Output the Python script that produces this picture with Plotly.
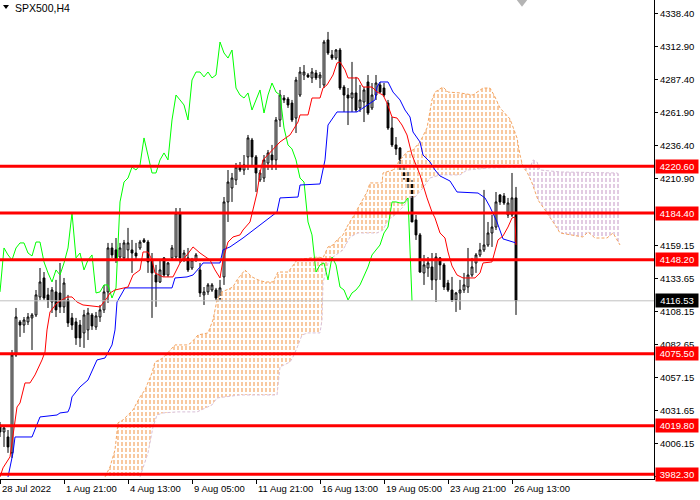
import plotly.graph_objects as go

# ---------------- data ----------------
tick_idx = [0, 16, 32, 48, 64, 80, 96, 112, 128]
tick_txt = ["28 Jul 2022", "1 Aug 21:00", "4 Aug 13:00", "9 Aug 05:00", "11 Aug 21:00",
            "16 Aug 13:00", "19 Aug 05:00", "23 Aug 21:00", "26 Aug 13:00"]

opens = [4020.5, 4015.1, 4011.2, 3998.9, 4074.6, 4100.2, 4097.8, 4100.2, 4103.3, 4105.6,
         4119.5, 4134.2, 4121.1, 4115.6, 4123.4, 4122.6, 4111.8, 4117.2, 4103.3, 4100.2,
         4097.8, 4091.7, 4094.0, 4105.6, 4096.3, 4104.0, 4109.5, 4123.4, 4157.4, 4155.9,
         4150.4, 4149.7, 4155.9, 4155.9, 4153.5, 4157.4, 4163.6, 4162.0, 4148.1, 4136.5,
         4131.1, 4149.7, 4136.5, 4149.7, 4150.4, 4184.5, 4148.1, 4149.7, 4141.9, 4148.1,
         4140.4, 4121.1, 4123.4, 4124.9, 4124.9, 4118.7, 4135.0, 4193.0, 4203.8, 4210.0,
         4220.0, 4217.7, 4227.8, 4240.9, 4227.8, 4210.0, 4211.5, 4223.1, 4229.3, 4225.5,
         4256.4, 4273.4, 4272.6, 4269.5, 4257.9, 4275.7, 4291.2, 4291.2, 4288.9, 4292.7,
         4288.9, 4283.5, 4318.3, 4306.7, 4304.3, 4310.5, 4281.9, 4275.7, 4273.4, 4277.3,
         4265.7, 4270.3, 4285.8, 4265.7, 4275.7, 4283.5, 4281.1, 4269.5, 4250.2, 4237.1,
         4234.7, 4215.4, 4211.5, 4207.7, 4179.1, 4167.5, 4138.1, 4141.9, 4142.7, 4132.7,
         4149.7, 4144.3, 4130.3, 4124.9, 4117.2, 4122.6, 4124.9, 4127.2, 4136.5, 4145.8,
         4152.0, 4155.9, 4159.7, 4169.0, 4173.6, 4198.4, 4197.6, 4182.9, 4182.9, 4196.1]
highs = [4022.8, 4019.0, 4016.6, 4078.5, 4111.0, 4101.7, 4104.0, 4107.1, 4107.1, 4124.9,
         4141.9, 4138.8, 4126.5, 4127.2, 4132.7, 4145.8, 4134.2, 4121.1, 4107.1, 4103.3,
         4101.7, 4109.5, 4111.0, 4107.1, 4107.9, 4113.3, 4128.8, 4161.3, 4161.3, 4165.1,
         4161.3, 4163.6, 4172.9, 4163.6, 4161.3, 4163.6, 4165.1, 4163.6, 4153.5, 4144.3,
         4148.1, 4150.4, 4146.6, 4159.7, 4188.3, 4188.3, 4155.9, 4157.4, 4149.7, 4153.5,
         4145.8, 4127.2, 4130.3, 4130.3, 4126.5, 4132.7, 4196.8, 4217.7, 4215.4, 4223.1,
         4223.9, 4229.3, 4244.8, 4242.5, 4229.3, 4217.7, 4229.3, 4233.2, 4237.1, 4258.7,
         4279.6, 4275.7, 4274.2, 4271.9, 4289.7, 4297.4, 4298.9, 4292.7, 4296.6, 4295.1,
         4293.5, 4318.3, 4324.5, 4310.5, 4311.3, 4312.1, 4283.5, 4281.1, 4301.3, 4289.7,
         4283.5, 4281.9, 4291.2, 4285.0, 4291.2, 4285.8, 4285.0, 4271.9, 4258.7, 4243.2,
         4235.5, 4221.6, 4217.7, 4210.0, 4182.9, 4169.0, 4152.0, 4150.4, 4153.5, 4153.5,
         4150.4, 4145.8, 4132.7, 4135.0, 4123.4, 4132.7, 4138.1, 4157.4, 4149.7, 4153.5,
         4161.3, 4202.3, 4177.5, 4182.9, 4200.7, 4199.0, 4199.9, 4196.1, 4215.4, 4204.6]
lows = [4011.2, 4003.5, 3998.9, 3995.0, 4073.1, 4088.6, 4091.7, 4097.8, 4078.5, 4104.0,
        4117.2, 4117.2, 4111.0, 4107.1, 4104.0, 4107.1, 4107.1, 4096.3, 4094.0, 4082.4,
        4080.8, 4080.1, 4086.2, 4094.0, 4094.0, 4100.2, 4107.1, 4114.9, 4149.7, 4145.8,
        4148.1, 4148.1, 4148.1, 4138.1, 4148.1, 4155.9, 4161.3, 4138.1, 4103.3, 4111.8,
        4130.3, 4135.0, 4135.0, 4148.1, 4148.1, 4145.8, 4146.6, 4138.8, 4140.4, 4146.6,
        4119.5, 4113.3, 4121.1, 4123.4, 4117.2, 4117.2, 4128.8, 4177.5, 4193.0, 4206.1,
        4216.2, 4213.9, 4217.7, 4220.0, 4200.7, 4208.4, 4208.4, 4217.7, 4217.7, 4217.7,
        4251.0, 4269.5, 4265.7, 4254.8, 4246.3, 4274.2, 4287.3, 4288.9, 4285.0, 4287.3,
        4281.1, 4281.1, 4306.7, 4302.8, 4302.8, 4279.6, 4262.6, 4252.5, 4262.6, 4262.6,
        4262.6, 4254.8, 4260.3, 4264.1, 4271.9, 4277.3, 4274.2, 4248.7, 4235.5, 4229.3,
        4217.7, 4210.0, 4202.3, 4177.5, 4163.6, 4138.1, 4128.8, 4135.0, 4124.9, 4115.6,
        4132.7, 4124.9, 4123.4, 4115.6, 4107.9, 4109.5, 4122.6, 4122.6, 4135.0, 4138.1,
        4150.4, 4154.3, 4158.2, 4158.2, 4171.3, 4190.7, 4190.7, 4180.6, 4181.4, 4105.6]
closes = [4015.1, 4018.2, 4003.5, 4074.6, 4104.0, 4097.8, 4101.7, 4104.0, 4105.6, 4121.1,
          4131.1, 4118.7, 4117.2, 4124.9, 4109.5, 4111.8, 4130.3, 4099.4, 4097.8, 4087.8,
          4087.8, 4105.6, 4107.1, 4097.1, 4104.8, 4109.5, 4123.4, 4157.4, 4152.0, 4148.1,
          4157.4, 4161.3, 4161.3, 4153.5, 4151.2, 4162.0, 4162.0, 4146.6, 4138.1, 4131.1,
          4140.4, 4136.5, 4145.8, 4157.4, 4184.5, 4149.7, 4153.5, 4140.4, 4148.1, 4152.0,
          4122.6, 4123.4, 4128.8, 4128.8, 4118.7, 4126.5, 4193.0, 4208.4, 4211.5, 4220.0,
          4217.7, 4221.6, 4242.5, 4227.8, 4215.4, 4215.4, 4225.5, 4230.9, 4225.5, 4256.4,
          4275.7, 4271.9, 4268.0, 4256.4, 4287.3, 4293.5, 4293.5, 4289.7, 4293.5, 4288.9,
          4291.2, 4316.7, 4308.2, 4304.3, 4310.5, 4281.1, 4275.7, 4273.4, 4277.3, 4264.1,
          4271.9, 4279.6, 4261.8, 4275.7, 4285.0, 4278.0, 4275.7, 4250.2, 4237.1, 4234.0,
          4225.5, 4211.5, 4208.4, 4177.5, 4167.5, 4138.8, 4144.3, 4145.8, 4132.7, 4150.4,
          4144.3, 4127.2, 4124.9, 4117.2, 4122.6, 4124.9, 4128.8, 4136.5, 4142.7, 4152.0,
          4155.9, 4159.7, 4169.0, 4173.6, 4193.0, 4193.0, 4192.2, 4192.2, 4196.1, 4116.53]

# Tenkan-sen (red) vertices: bar index, price
tenkan_x = [0, 0.75, 2.5, 3.25, 4.25, 5, 6.25, 7.5, 8.75, 10.5, 11.25, 11.75, 12.5, 14.25, 16.75,
            18, 19.25, 20.75, 25, 26.75, 27.5, 28.75, 31.25, 32, 33.25, 35, 35.75, 37, 38, 38.75,
            40.75, 43.25, 45, 46.75, 48.25, 50, 52.5, 53.75, 55, 55.75, 57, 58.25, 60, 60.75,
            62.5, 63.25, 64.25, 65, 65.75, 70, 72.5, 74.5, 75, 77, 78, 80, 80.75, 81.75, 83.25,
            84.25, 85, 86.25, 87, 89.5, 90.75, 93, 94.25, 95.75, 96.75, 98, 99.25, 100.5, 101.75,
            103, 103.75, 105, 106.75, 108, 108.75, 110, 111.25, 112, 113, 114.25, 115.75, 118.75,
            120, 120.75, 123, 123.75, 124.5, 125.75, 127, 128, 128.75, 129]
tenkan_y = [3980.3, 3987.3, 3995.8, 4011.2, 4034.4, 4037.5, 4053.0, 4053.0, 4059.2, 4070.8,
            4077.0, 4094.0, 4107.9, 4114.9, 4119.5, 4119.5, 4115.6, 4113.3, 4111.8, 4118.7,
            4122.6, 4124.9, 4126.5, 4127.2, 4136.5, 4140.4, 4154.3, 4154.3, 4148.1, 4138.1,
            4135.0, 4135.0, 4145.8, 4152.0, 4158.2, 4153.5, 4148.1, 4140.4, 4134.2, 4148.1,
            4162.0, 4165.9, 4167.5, 4171.3, 4177.5, 4186.8, 4199.9, 4215.4, 4225.5, 4239.4,
            4244.8, 4254.8, 4260.3, 4260.3, 4273.4, 4273.4, 4281.1, 4283.5, 4291.2, 4300.5,
            4301.3, 4295.1, 4288.9, 4288.9, 4281.9, 4281.9, 4278.0, 4275.7, 4269.5, 4258.7,
            4257.9, 4252.5, 4244.8, 4229.3, 4223.1, 4213.9, 4196.1, 4185.2, 4180.6, 4169.0,
            4165.1, 4154.3, 4143.5, 4136.5, 4134.2, 4134.2, 4138.1, 4145.8, 4146.6, 4155.9,
            4163.6, 4166.7, 4173.6, 4180.6, 4181.4, 4159.7]

# Kijun-sen (blue) vertices
kijun_x = [2, 3.25, 3.75, 8, 10, 14.25, 15, 17, 17.5, 18, 20, 22, 24.25, 26.25, 28, 28.75, 29.25,
           31.25, 43, 43.75, 46.75, 48.25, 50, 50.75, 55, 55.75, 57.5, 60.75, 69.25, 70, 74.5, 75,
           80, 81.25, 82, 84.25, 89.25, 91.75, 93.75, 94.25, 95, 97, 98.25, 100, 101.25, 102.5,
           103.25, 105, 105.75, 107.5, 108.75, 110, 112.5, 114.25, 119.5, 121.25, 122.5, 124.25,
           125.75, 129]
kijun_y = [3980.3, 3998.9, 4011.2, 4011.2, 4026.7, 4028.2, 4029.8, 4030.6, 4034.4, 4042.2,
           4049.9, 4055.3, 4070.8, 4072.3, 4082.4, 4094.0, 4115.6, 4126.5, 4126.5, 4134.2,
           4135.0, 4136.5, 4142.7, 4145.8, 4145.8, 4155.9, 4158.2, 4165.1, 4185.2, 4196.1,
           4196.8, 4206.1, 4206.9, 4225.5, 4252.5, 4262.6, 4262.6, 4268.0, 4271.9, 4281.9,
           4285.8, 4285.8, 4278.0, 4271.9, 4264.1, 4258.7, 4247.1, 4239.4, 4229.3, 4223.9,
           4217.7, 4213.1, 4209.2, 4200.7, 4199.9, 4196.1, 4189.1, 4177.5, 4164.4, 4161.3]

# Senkou span A (cloud edge, sandy) vertices
span_a_x = [26.25, 27.5, 28.75, 29.5, 30.75, 32, 33.25, 35, 36.25, 38, 38.75, 40.75, 42.5, 43.75,
            47, 48, 49.5, 52, 53.25, 54.25, 55.5, 58.25, 59.25, 61.25, 63, 64.5, 66.25, 68.25,
            69.5, 72, 73, 74.25, 77.5, 79.5, 80.75, 82, 83.25, 84.25, 85.75, 87, 88.25, 89.25,
            90.5, 91.75, 92.5, 95.5, 95.75, 98.25, 100, 101.75, 103.25, 105, 106.75, 108, 108.75,
            110.75, 112, 115, 118.25, 120.75, 122.5, 123.75, 125, 126.25, 127.5, 129.25, 130,
            130.75, 131.75, 133, 134.5, 136.25, 137.5, 139.25, 140, 142.5, 145.75, 147, 148.75,
            151.75, 153.25, 155]
span_a_y = [3980.3, 3988.0, 4001.2, 4022.1, 4024.4, 4028.2, 4032.1, 4042.2, 4047.6, 4060.7,
            4069.2, 4072.3, 4078.5, 4082.4, 4082.4, 4084.7, 4090.1, 4091.7, 4101.7, 4117.2,
            4123.4, 4127.2, 4132.7, 4140.4, 4135.0, 4132.7, 4131.1, 4131.1, 4138.8, 4138.8,
            4142.7, 4148.1, 4149.7, 4150.4, 4149.7, 4158.2, 4159.7, 4163.6, 4167.5, 4175.2,
            4181.4, 4186.8, 4194.5, 4200.7, 4207.7, 4207.7, 4215.4, 4217.7, 4225.5, 4231.7,
            4233.2, 4239.4, 4250.2, 4271.9, 4278.0, 4281.9, 4278.0, 4277.3, 4275.7, 4281.1,
            4281.1, 4274.2, 4265.7, 4261.0, 4257.2, 4242.5, 4229.3, 4220.0, 4216.2, 4207.7,
            4194.5, 4186.8, 4181.4, 4172.9, 4169.0, 4167.5, 4165.9, 4169.8, 4165.1, 4165.1,
            4169.0, 4159.7]

# Senkou span B (cloud edge, thistle) vertices
span_b_x = [35, 37, 38.25, 39.25, 40.75, 44.25, 49.25, 53, 54.25, 60, 69.25, 70, 72.5, 73.25,
            74.25, 75.5, 77, 80, 80.5, 80.75, 82, 83.25, 85.75, 87.5, 89.5, 94.25, 95.75, 97,
            98.75, 100.75, 102.5, 103.75, 105.75, 107.5, 110, 115, 116.75, 122.5, 130.75, 132.5,
            133.25, 134.25, 135, 140, 154.25, 155]
span_b_y = [3980.3, 3998.9, 4019.0, 4028.2, 4029.8, 4030.6, 4030.6, 4036.0, 4041.4, 4043.7,
            4043.7, 4065.4, 4069.2, 4073.1, 4080.1, 4090.1, 4091.7, 4091.7, 4101.7, 4130.3,
            4145.8, 4150.4, 4155.9, 4165.9, 4169.0, 4169.0, 4171.3, 4179.1, 4182.9, 4189.1,
            4196.8, 4196.8, 4203.8, 4211.5, 4213.9, 4213.9, 4217.7, 4219.3, 4220.0, 4219.3,
            4225.5, 4223.9, 4217.7, 4216.2, 4215.4, 4213.9]
cloud_cross = 130.75

levels = [4220.60, 4184.40, 4148.20, 4075.50, 4019.80, 3982.30]
last_price = 4116.53
price_ticks = [4338.40, 4312.90, 4287.40, 4261.90, 4236.40, 4210.90, 4159.15, 4133.65,
               4108.15, 4082.65, 4057.15, 4031.65, 4006.15, 3980.65]
chikou_shift = 26

# ---------------- figure ----------------
ORANGE = "#F4A460"
THISTLE = "#D8BFD8"
FONT = "Liberation Sans"
FS = 9.5

fig = go.Figure()

# cloud polygons
a_left = [(x, y) for x, y in zip(span_a_x, span_a_y) if x <= cloud_cross]
b_left = [(x, y) for x, y in zip(span_b_x, span_b_y) if x <= cloud_cross]
a_right = [(x, y) for x, y in zip(span_a_x, span_a_y) if x >= cloud_cross]
b_right = [(x, y) for x, y in zip(span_b_x, span_b_y) if x >= cloud_cross]
poly_orange = a_left + b_left[::-1]
poly_plum = b_right + a_right[::-1]

for poly, col in [(poly_orange, ORANGE), (poly_plum, "#CFA8CF")]:
    px_ = [p[0] for p in poly] + [poly[0][0]]
    py_ = [p[1] for p in poly] + [poly[0][1]]
    fig.add_trace(go.Scatter(x=px_, y=py_, mode="lines", fill="toself",
                             fillcolor="rgba(0,0,0,0)", line=dict(width=0),
                             fillpattern=dict(shape="|", size=4, solidity=0.3,
                                              fgcolor=col, fgopacity=1,
                                              bgcolor="rgba(0,0,0,0)"),
                             hoverinfo="skip"))
    # break vertical hatch lines into dashes
    fig.add_trace(go.Scatter(x=px_, y=py_, mode="lines", fill="toself",
                             fillcolor="rgba(0,0,0,0)", line=dict(width=0),
                             fillpattern=dict(shape="-", size=6, solidity=0.34,
                                              fgcolor="white", fgopacity=1,
                                              bgcolor="rgba(0,0,0,0)"),
                             hoverinfo="skip"))

# cloud edges
fig.add_trace(go.Scatter(x=span_a_x, y=span_a_y, mode="lines",
                         line=dict(color=ORANGE, width=1, dash="3px,2px"), hoverinfo="skip"))
fig.add_trace(go.Scatter(x=span_b_x, y=span_b_y, mode="lines",
                         line=dict(color=THISTLE, width=1, dash="3px,2px"), hoverinfo="skip"))

# candles
idx = list(range(len(closes)))
fig.add_trace(go.Candlestick(x=idx, open=opens, high=highs, low=lows, close=closes,
                             increasing=dict(line=dict(color="black", width=1), fillcolor="white"),
                             decreasing=dict(line=dict(color="black", width=1), fillcolor="black"),
                             whiskerwidth=0, hoverinfo="skip"))

# chikou span (closes plotted 26 bars back)
fig.add_trace(go.Scatter(x=[i - chikou_shift for i in idx[chikou_shift:]], y=closes[chikou_shift:],
                         mode="lines", line=dict(color="#00FF00", width=1), hoverinfo="skip"))
fig.add_trace(go.Scatter(x=kijun_x, y=kijun_y, mode="lines",
                         line=dict(color="#0000FF", width=1), hoverinfo="skip"))
fig.add_trace(go.Scatter(x=tenkan_x, y=tenkan_y, mode="lines",
                         line=dict(color="#FF0000", width=1), hoverinfo="skip"))

shapes = []
shapes.append(dict(type="line", xref="paper", x0=0, x1=1, yref="y", y0=last_price, y1=last_price,
                   line=dict(color="#C0C0C0", width=1), layer="above"))
for lv in levels:
    shapes.append(dict(type="line", xref="paper", x0=0, x1=1, yref="y", y0=lv, y1=lv,
                       line=dict(color="#FF0000", width=3), layer="above"))
# shift marker at top
shapes.append(dict(type="path", xref="x", yref="paper",
                   path="M 129.2,1 L 131.8,1 L 130.5,0.986 Z",
                   fillcolor="#B4B4B4", line=dict(width=0)))
# small title triangle
shapes.append(dict(type="path", xref="paper", yref="paper",
                   path="M 0.0046,0.9896 L 0.0138,0.9896 L 0.0092,0.9812 Z",
                   fillcolor="black", line=dict(width=0)))

annotations = []
annotations.append(dict(xref="paper", yref="paper", x=0, y=1, xanchor="left", yanchor="top",
                        xshift=13, yshift=0, text="SPX500,H4", showarrow=False,
                        font=dict(family=FONT, size=10.5, color="black")))
# price-axis labels
for v in price_ticks:
    annotations.append(dict(xref="paper", yref="y", x=1, y=v, xanchor="left", yanchor="middle",
                            xshift=4, text=f"{v:.2f}", showarrow=False,
                            font=dict(family=FONT, size=FS, color="black")))
# time-axis labels, to the right of their tick
for k, t in zip(tick_idx, tick_txt):
    annotations.append(dict(xref="x", yref="paper", x=k, y=0, xanchor="left", yanchor="top",
                            xshift=0, yshift=-2, text=t, showarrow=False,
                            font=dict(family=FONT, size=FS, color="black")))
for lv in levels:
    annotations.append(dict(xref="paper", yref="y", x=1, y=lv, xanchor="left", yanchor="middle",
                            xshift=1, width=40, height=11, align="center", text=f"{lv:.2f}",
                            showarrow=False, bgcolor="#FF0000", borderpad=1,
                            font=dict(family=FONT, size=FS, color="white")))
annotations.append(dict(xref="paper", yref="y", x=1, y=last_price, xanchor="left", yanchor="middle",
                        xshift=1, width=40, height=11, align="center", text=f"{last_price:.2f}",
                        showarrow=False, bgcolor="black", borderpad=1,
                        font=dict(family=FONT, size=FS, color="white")))

fig.update_layout(width=700, height=500, margin=dict(l=0, r=46, t=0, b=21),
                  paper_bgcolor="white", plot_bgcolor="white", showlegend=False,
                  font=dict(family=FONT, size=FS, color="black"),
                  shapes=shapes, annotations=annotations, boxgap=0.35)
fig.update_xaxes(range=[0, 163.5], tickvals=tick_idx, showticklabels=False, ticks="outside",
                 ticklen=4, tickcolor="black", showgrid=False, zeroline=False, showline=True,
                 linecolor="black", linewidth=1, rangeslider=dict(visible=False))
fig.update_yaxes(side="right", range=[3978.7, 4349.2], tickvals=price_ticks,
                 showticklabels=False, ticks="outside", ticklen=3,
                 tickcolor="black", showgrid=False, zeroline=False, showline=True,
                 linecolor="black", linewidth=1)

fig.write_html("out.html", config={"displayModeBar": False},
               post_script="document.body.style.margin='0';document.body.style.padding='0';")
